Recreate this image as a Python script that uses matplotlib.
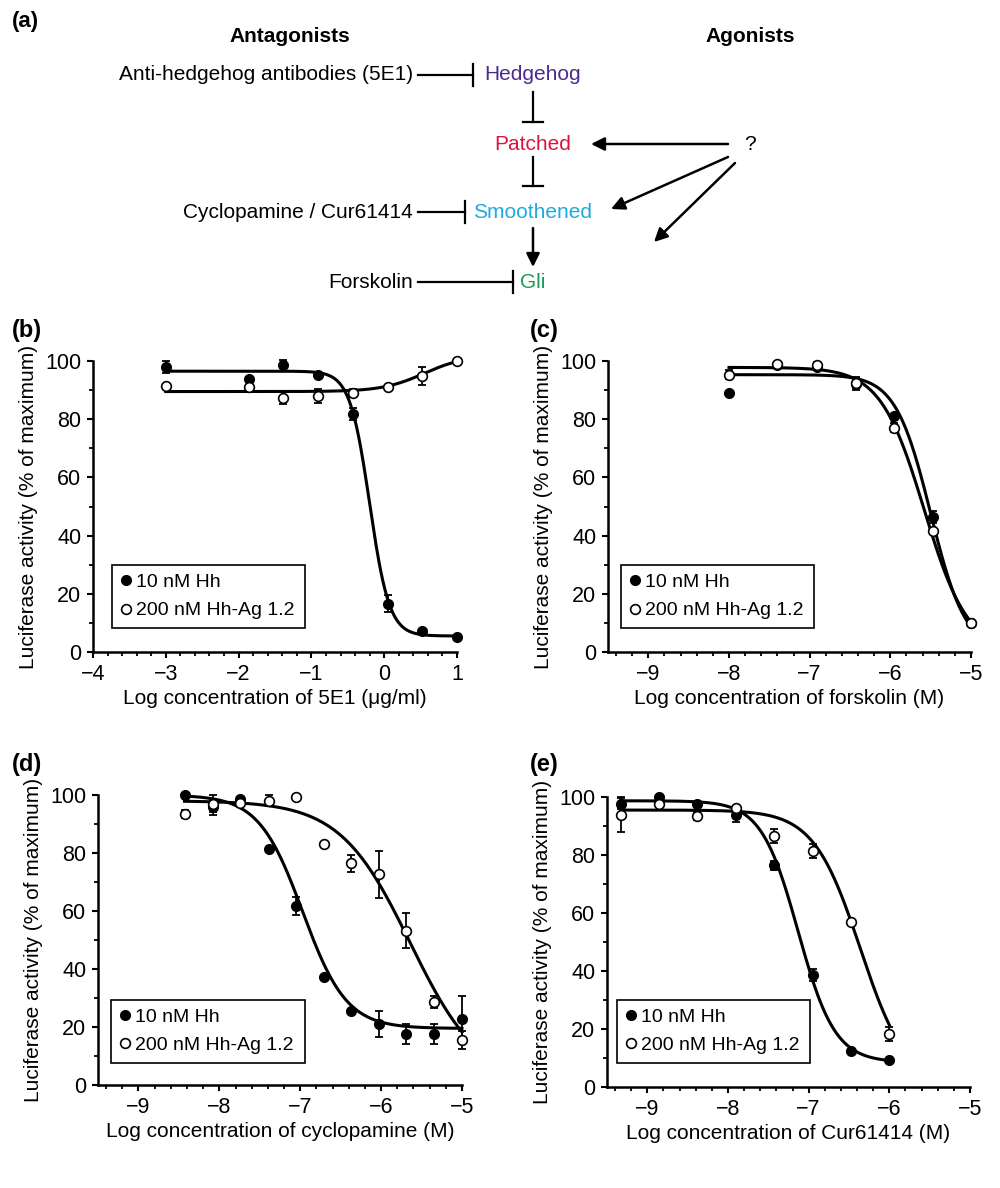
import numpy as np
import matplotlib
matplotlib.use("Agg")
import matplotlib.pyplot as plt
from matplotlib.lines import Line2D
from matplotlib.ticker import MultipleLocator

plt.rcParams["font.family"] = ["Liberation Sans", "DejaVu Sans"]

# ---- data ----
# (b) anti-hedgehog antibody 5E1, log ug/ml
b_x = [-3.0, -1.86, -1.39, -0.91, -0.43, 0.05, 0.52, 1.0]
b_hh = [97.9, 93.9, 98.5, 95.1, 81.7, 16.6, 7.1, 5.2]
b_hh_err = [2.0, 0, 2.0, 0, 2.0, 3.0, 0, 0]
b_ag = [91.3, 91.1, 87.3, 88.0, 89.0, 91.1, 94.8, 100.0]
b_ag_err = [0, 0, 2.0, 2.5, 1.5, 0, 3.0, 0]

# (c) forskolin, log M
c_x = [-8.0, -7.4, -6.91, -6.43, -5.96, -5.47, -5.0]
c_hh = [89.1, 98.7, 98.0, 92.0, 81.0, 46.4, 10.0]
c_hh_err = [0, 0, 0, 2.0, 0, 2.0, 0]
c_ag = [95.3, 98.9, 98.5, 92.6, 77.1, 41.6, 10.0]
c_ag_err = [1.5, 0, 1.0, 2.0, 1.5, 0, 0]

# (d) cyclopamine, log M
d_x = [-8.43, -8.08, -7.74, -7.39, -7.05, -6.71, -6.37, -6.02, -5.69, -5.34, -5.0]
d_hh = [100.0, 95.7, 98.6, 81.4, 61.7, 37.1, 25.6, 20.9, 17.5, 17.5, 22.8]
d_hh_err = [0, 2.5, 0, 0, 3.0, 0, 0, 4.5, 3.5, 3.5, 8.0]
d_ag = [93.4, 97.0, 97.4, 98.1, 99.2, 83.1, 76.4, 72.6, 53.2, 28.7, 15.5]
d_ag_err = [1.5, 3.0, 0, 2.0, 0, 0, 3.0, 8.0, 6.0, 2.0, 3.0]

# (e) Cur61414, log M
e_x = [-9.33, -8.86, -8.38, -7.9, -7.43, -6.95, -6.48, -6.0]
e_hh = [97.7, 100.0, 97.5, 93.9, 76.5, 38.6, 12.3, 9.2]
e_hh_err = [2.0, 0, 0, 2.5, 1.5, 2.0, 0, 0]
e_ag = [93.9, 97.5, 93.5, 96.3, 86.6, 81.4, 57.0, 18.3]
e_ag_err = [6.0, 1.0, 1.5, 0, 2.5, 2.5, 0, 2.5]

# fitted dose-response curves: (left plateau, right plateau, log midpoint, hill)
b_hh_fit = (96.5, 5.5, -0.2, 3.2)
b_ag_fit = (89.5, 102.0, 0.55, 1.5)
c_hh_fit = (95.3, 0.0, -5.5, 2.0)
c_ag_fit = (97.8, 0.0, -5.58, 1.6)
d_hh_fit = (100.0, 19.5, -6.97, 1.6)
d_ag_fit = (98.0, 0.0, -5.64, 1.0)
e_hh_fit = (98.7, 8.5, -7.13, 1.9)
e_ag_fit = (95.5, 0.0, -6.36, 1.5)

legend_labels = ["10 nM Hh", "200 nM Hh-Ag 1.2"]
ylabel = "Luciferase activity (% of maximum)"


def dose_response(x, fit):
    left, right, mid, hill = fit
    return right + (left - right) / (1 + 10 ** ((x - mid) * hill))


fig = plt.figure(figsize=(10, 11.88), dpi=100)
H = 1188.0

# ---- (a) pathway diagram, drawn in pixel coordinates ----
ax_a = fig.add_axes([0, 1 - 300 / H, 1, 300 / H])
ax_a.set_xlim(0, 1000)
ax_a.set_ylim(300, 0)
ax_a.axis("off")

fs = 15
ax_a.text(290, 37, "Antagonists", ha="center", va="center", fontsize=fs, fontweight="bold")
ax_a.text(750, 37, "Agonists", ha="center", va="center", fontsize=fs, fontweight="bold")

nodes = ["Hedgehog", "Patched", "Smoothened", "Gli"]
node_colors = ["#4b2a8e", "#dc143c", "#1eaadf", "#1a9a5a"]
node_y = [75, 144, 212, 282]
for name, col, y in zip(nodes, node_colors, node_y):
    ax_a.text(533, y, name, ha="center", va="center", fontsize=fs, color=col)

antagonists = ["Anti-hedgehog antibodies (5E1)", "Cyclopamine / Cur61414", "Forskolin"]
ant_y = [75, 212, 282]
ant_end = [473, 465, 513]
for name, y, xe in zip(antagonists, ant_y, ant_end):
    ax_a.text(413, y, name, ha="right", va="center", fontsize=fs)
    ax_a.plot([418, xe], [y, y], color="k", lw=1.6)
    ax_a.plot([xe, xe], [y - 11, y + 11], color="k", lw=1.6)

# vertical inhibition steps
for y0, y1 in [(92, 122), (157, 186)]:
    ax_a.plot([533, 533], [y0, y1], color="k", lw=1.6)
    ax_a.plot([523, 543], [y1, y1], color="k", lw=1.6)

arrow_kw = dict(arrowstyle="-|>", mutation_scale=20, lw=1.8, color="k",
                shrinkA=0, shrinkB=0)
ax_a.annotate("", xy=(533, 267), xytext=(533, 228), arrowprops=arrow_kw)
ax_a.text(750, 144, "?", ha="center", va="center", fontsize=fs)
ax_a.annotate("", xy=(591, 144), xytext=(728, 144), arrowprops=arrow_kw)
ax_a.annotate("", xy=(611, 209), xytext=(728, 157), arrowprops=arrow_kw)
ax_a.annotate("", xy=(654, 242), xytext=(735, 163), arrowprops=arrow_kw)

fig.text(12 / 1000, 1 - 22 / H, "(a)", fontsize=16, fontweight="bold", va="center")


# ---- dose-response panels ----
def panel(rect, tag, tag_xy, x, hh, hh_err, ag, ag_err, hh_fit, ag_fit,
          xlim, xlabel, leg_box):
    l, t, r, b = rect
    ax = fig.add_axes([l / 1000, 1 - b / H, (r - l) / 1000, (b - t) / H])
    fig.text(tag_xy[0] / 1000, 1 - tag_xy[1] / H, tag, fontsize=17,
             fontweight="bold", va="center")

    x = np.array(x)
    for ys, err in [(hh, hh_err), (ag, ag_err)]:
        ys = np.array(ys)
        err = np.array(err)
        m = err > 0
        ax.errorbar(x[m], ys[m], yerr=err[m], fmt="none", ecolor="k",
                    elinewidth=1.3, capsize=3.2, capthick=1.3, zorder=2,
                    clip_on=False)

    xs = np.linspace(x.min(), x.max(), 300)
    ax.plot(xs, dose_response(xs, hh_fit), color="k", lw=2.2, zorder=3, clip_on=False)
    ax.plot(xs, dose_response(xs, ag_fit), color="k", lw=2.2, zorder=3, clip_on=False)

    ax.plot(x, hh, "o", ms=7, mfc="k", mec="k", zorder=4, clip_on=False)
    ax.plot(x, ag, "o", ms=7, mfc="white", mec="k", mew=1.2, zorder=5, clip_on=False)

    ax.set_xlim(*xlim)
    ax.set_ylim(0, 100)
    ax.xaxis.set_major_locator(MultipleLocator(1))
    ax.xaxis.set_minor_locator(MultipleLocator(0.2))
    ax.yaxis.set_major_locator(MultipleLocator(20))
    ax.yaxis.set_minor_locator(MultipleLocator(10))
    for s in ["top", "right"]:
        ax.spines[s].set_visible(False)
    for s in ["left", "bottom"]:
        ax.spines[s].set_linewidth(1.8)
    ax.tick_params(which="major", length=4.5, width=1.5, labelsize=15.5, pad=4)
    ax.tick_params(which="minor", length=3, width=1.3)
    ax.set_xlabel(xlabel, fontsize=15, labelpad=3)
    ax.set_ylabel(ylabel, fontsize=15, labelpad=5)

    handles = [
        Line2D([], [], ls="none", marker="o", ms=7, mfc="k", mec="k"),
        Line2D([], [], ls="none", marker="o", ms=7, mfc="white", mec="k", mew=1.2),
    ]
    leg = ax.legend(handles, legend_labels, loc="lower left", bbox_to_anchor=leg_box,
                    mode="expand", borderaxespad=0, fontsize=14, handlelength=0.5,
                    handletextpad=0.3, labelspacing=0.55, borderpad=0.45,
                    fancybox=False, framealpha=1)
    leg.get_frame().set_edgecolor("k")
    leg.get_frame().set_linewidth(1.2)
    return ax


panel((93, 361, 457, 652), "(b)", (12, 330), b_x, b_hh, b_hh_err, b_ag, b_ag_err,
      b_hh_fit, b_ag_fit, (-4, 1), "Log concentration of 5E1 (\u03bcg/ml)",
      (0.052, 0.082, 0.53, 0.238))
panel((608, 361, 971, 652), "(c)", (530, 330), c_x, c_hh, c_hh_err, c_ag, c_ag_err,
      c_hh_fit, c_ag_fit, (-9.5, -5), "Log concentration of forskolin (M)",
      (0.036, 0.082, 0.531, 0.238))
panel((98, 795, 462, 1085), "(d)", (12, 765), d_x, d_hh, d_hh_err, d_ag, d_ag_err,
      d_hh_fit, d_ag_fit, (-9.5, -5), "Log concentration of cyclopamine (M)",
      (0.036, 0.076, 0.533, 0.241))
panel((607, 797, 970, 1087), "(e)", (530, 765), e_x, e_hh, e_hh_err, e_ag, e_ag_err,
      e_hh_fit, e_ag_fit, (-9.5, -5), "Log concentration of Cur61414 (M)",
      (0.028, 0.083, 0.532, 0.241))

fig.savefig("out.png", dpi=100)
